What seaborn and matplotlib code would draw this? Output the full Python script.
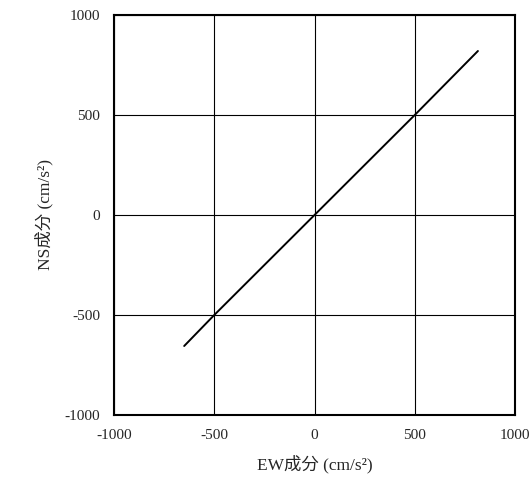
import pandas as pd
import matplotlib
matplotlib.use('Agg')
import matplotlib.pyplot as plt
import seaborn as sns

# orbit of acceleration (EW vs NS), cm/s^2
ew = [-650, -500, 0, 500, 815]
ns = [-655, -500, 0, 500, 820]
ticks = [-1000, -500, 0, 500, 1000]

df = pd.DataFrame({'EW': ew, 'NS': ns})

sns.set_style('white')
plt.rcParams['font.family'] = ['Liberation Serif', 'Noto Sans CJK JP']
plt.rcParams['axes.unicode_minus'] = False

fig = plt.figure(figsize=(5.31, 4.79), dpi=100)
ax = fig.add_axes([0.2147, 0.1336, 0.7552, 0.8351])

sns.lineplot(data=df, x='EW', y='NS', sort=False, color='black', linewidth=1.4, ax=ax)

ax.set_xlim(-1000, 1000)
ax.set_ylim(-1000, 1000)
ax.set_xticks(ticks)
ax.set_yticks(ticks)
ax.tick_params(axis='x', length=0, labelsize=11, pad=10)
ax.tick_params(axis='y', length=0, labelsize=11, pad=10)
ax.grid(True, color='black', linewidth=0.8)
for s in ax.spines.values():
    s.set_color('black')
    s.set_linewidth(1.5)

ax.set_xlabel('EW成分 (cm/s²)', fontsize=12.5, labelpad=9)
ax.set_ylabel('NS成分 (cm/s²)', fontsize=12.5, labelpad=8)

fig.savefig('out.png', dpi=100)
